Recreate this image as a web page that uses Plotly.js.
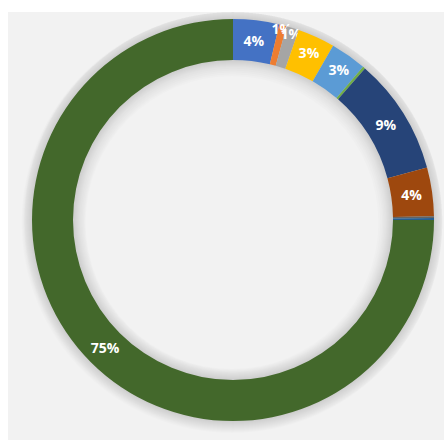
<!DOCTYPE html>
<html>
<head>
<meta charset="utf-8">
<script src="https://cdn.plot.ly/plotly-3.0.1.min.js"></script>
<style>
html,body{margin:0;padding:0;background:#ffffff;}
#chart{position:absolute;left:8px;top:12px;width:436px;height:428px;}
</style>
</head>
<body>
<div id="chart"></div>
<script>
// Data (share of total, in %)
const categories = ["A","B","C","D","E","F","G","H","I","J","K"];
const values = [3.7, 0.6, 1.0, 3.0, 2.9, 0.2, 9.4, 3.9, 0.15, 0.15, 75.0];
const colors = ["#4472C4","#ED7D31","#A5A5A5","#FFC000","#5B9BD5","#70AD47","#264478","#9E480E","#636363","#255E91","#43682B"];

const total = values.reduce((a,b)=>a+b,0);
const labelsText = values.map(v => (v/total >= 0.005) ? Math.round(v/total*100) + "%" : "");

const W = 436, H = 428;
const cx = 225, cy = 220; // center (cy from bottom)
const R = 201, r = 160;

function dom(rad){
  return {x:[(cx-rad)/W,(cx+rad)/W], y:[(cy-rad)/H,(cy+rad)/H]};
}

const traces = [];
// soft shadow layers
[12,11,10,9,8,7,6,5,4,3,2,1].forEach(e=>{
  traces.push({
    type:'pie', values:[1], labels:['s'+e], sort:false,
    marker:{colors:['rgba(0,0,0,0.012)'], line:{width:0}},
    hole:(r-e)/(R+e), domain:dom(R+e), textinfo:'none', hoverinfo:'skip', showlegend:false
  });
});

traces.push({
  type:'pie',
  labels:categories,
  values:values,
  text:labelsText,
  textinfo:'text',
  textposition:'inside',
  insidetextorientation:'horizontal',
  sort:false,
  direction:'clockwise',
  rotation:0,
  hole:r/R,
  domain:dom(R),
  marker:{colors:colors, line:{width:0}},
  textfont:{family:'"Open Sans", "DejaVu Sans", sans-serif', size:14, color:'#ffffff', weight:'bold'},
  showlegend:false,
  hoverinfo:'label+percent'
});

Plotly.newPlot('chart', traces, {
  width:W, height:H,
  margin:{l:0,r:0,t:0,b:0},
  paper_bgcolor:'#f2f2f2',
  showlegend:false,
  uniformtext:{mode:'show', minsize:14}
}, {displayModeBar:false, staticPlot:true});
</script>
</body>
</html>
